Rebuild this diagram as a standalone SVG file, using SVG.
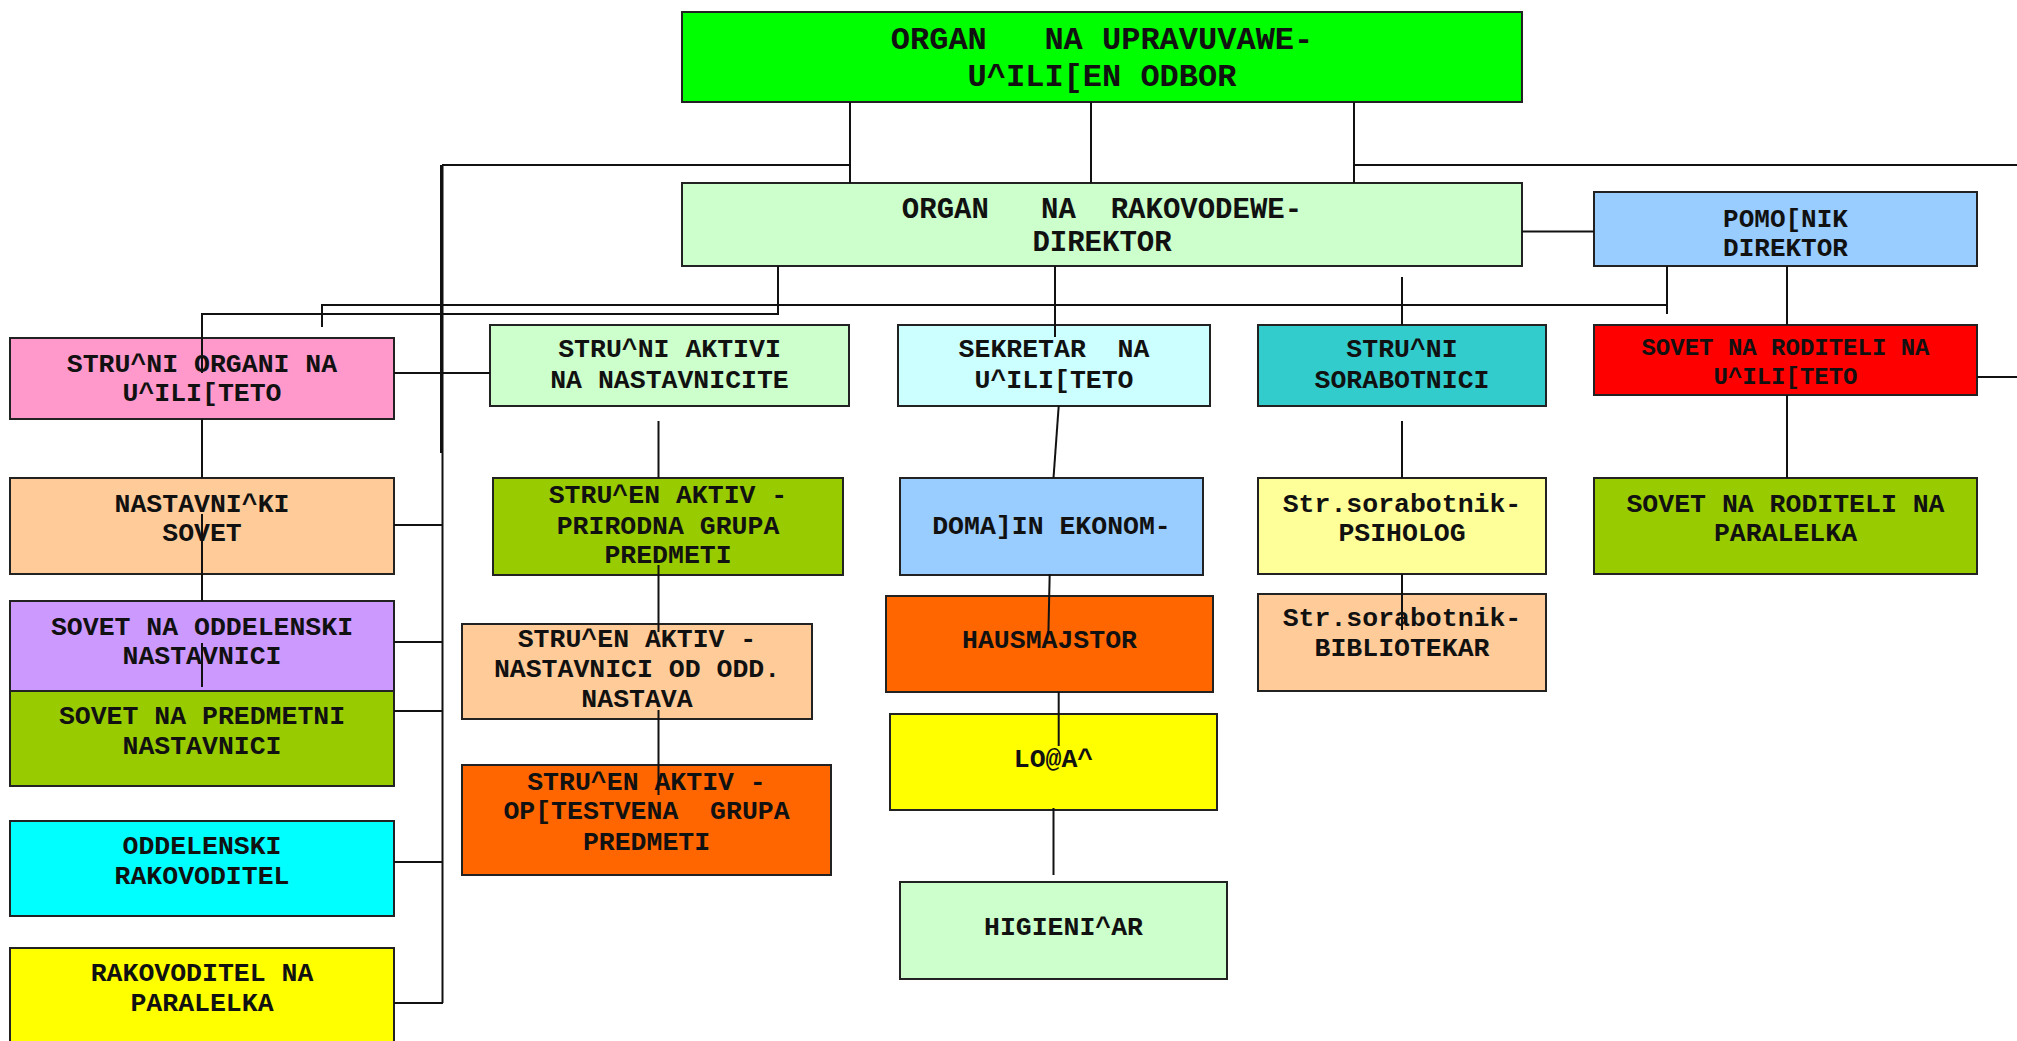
<svg xmlns="http://www.w3.org/2000/svg" width="2017" height="1041" viewBox="0 0 2017 1041" xml:space="preserve">
<style>
.b{stroke:#222;stroke-width:2}
.t{font-family:"Liberation Mono","Courier New",monospace;font-weight:bold;font-size:26.5px;fill:#111;text-anchor:middle;white-space:pre}
.c line,.c polyline{stroke:#111;stroke-width:2;fill:none}
</style>
<rect width="2017" height="1041" fill="#fff"/>
<g id="n-top"><rect class="b" x="682" y="12" width="840" height="90" fill="#00FF00"/><text class="t" style="font-size:32px" x="1102" y="49">ORGAN   NA UPRAVUVAWE-</text><text class="t" style="font-size:32px" x="1102" y="86">U^ILI[EN ODBOR</text></g>
<g id="n-dir"><rect class="b" x="682" y="183" width="840" height="83" fill="#CCFFCC"/><text class="t" style="font-size:29px" x="1102" y="218">ORGAN   NA  RAKOVODEWE-</text><text class="t" style="font-size:29px" x="1102" y="251">DIREKTOR</text></g>
<g id="n-pom"><rect class="b" x="1594" y="192" width="383" height="74" fill="#99CCFF"/><text class="t" style="font-size:26px" x="1785.5" y="227">POMO[NIK</text><text class="t" style="font-size:26px" x="1785.5" y="256">DIREKTOR</text></g>
<g id="n-sorg"><rect class="b" x="10" y="338" width="384" height="81" fill="#FF99CC"/><text class="t" x="202" y="372">STRU^NI ORGANI NA</text><text class="t" x="202" y="401">U^ILI[TETO</text></g>
<g id="n-sakt"><rect class="b" x="490" y="325" width="359" height="81" fill="#CCFFCC"/><text class="t" x="669.5" y="357">STRU^NI AKTIVI</text><text class="t" x="669.5" y="388">NA NASTAVNICITE</text></g>
<g id="n-sek"><rect class="b" x="898" y="325" width="312" height="81" fill="#CCFFFF"/><text class="t" x="1054" y="357">SEKRETAR  NA</text><text class="t" x="1054" y="388">U^ILI[TETO</text></g>
<g id="n-ssor"><rect class="b" x="1258" y="325" width="288" height="81" fill="#33CCCC"/><text class="t" x="1402" y="357">STRU^NI</text><text class="t" x="1402" y="388">SORABOTNICI</text></g>
<g id="n-srod"><rect class="b" x="1594" y="325" width="383" height="70" fill="#FF0000"/><text class="t" style="font-size:24px" x="1785.5" y="355">SOVET NA RODITELI NA</text><text class="t" style="font-size:24px" x="1785.5" y="384">U^ILI[TETO</text></g>
<g id="n-nsov"><rect class="b" x="10" y="478" width="384" height="96" fill="#FFCC99"/><text class="t" x="202" y="512">NASTAVNI^KI</text><text class="t" x="202" y="541">SOVET</text></g>
<g id="n-sodd"><rect class="b" x="10" y="601" width="384" height="90" fill="#CC99FF"/><text class="t" x="202" y="635">SOVET NA ODDELENSKI</text><text class="t" x="202" y="664">NASTAVNICI</text></g>
<g id="n-spred"><rect class="b" x="10" y="691" width="384" height="95" fill="#99CC00"/><text class="t" x="202" y="724">SOVET NA PREDMETNI</text><text class="t" x="202" y="754">NASTAVNICI</text></g>
<g id="n-orak"><rect class="b" x="10" y="821" width="384" height="95" fill="#00FFFF"/><text class="t" x="202" y="854">ODDELENSKI</text><text class="t" x="202" y="884">RAKOVODITEL</text></g>
<g id="n-rpar"><rect class="b" x="10" y="948" width="384" height="110" fill="#FFFF00"/><text class="t" x="202" y="981">RAKOVODITEL NA</text><text class="t" x="202" y="1011">PARALELKA</text></g>
<g id="n-prir"><rect class="b" x="493" y="478" width="350" height="97" fill="#99CC00"/><text class="t" x="668" y="503">STRU^EN AKTIV -</text><text class="t" x="668" y="534">PRIRODNA GRUPA</text><text class="t" x="668" y="563">PREDMETI</text></g>
<g id="n-odd"><rect class="b" x="462" y="624" width="350" height="95" fill="#FFCC99"/><text class="t" x="637" y="647">STRU^EN AKTIV -</text><text class="t" x="637" y="677">NASTAVNICI OD ODD.</text><text class="t" x="637" y="707">NASTAVA</text></g>
<g id="n-opst"><rect class="b" x="462" y="765" width="369" height="110" fill="#FF6600"/><text class="t" x="646.5" y="790">STRU^EN AKTIV -</text><text class="t" x="646.5" y="819">OP[TESTVENA  GRUPA</text><text class="t" x="646.5" y="850">PREDMETI</text></g>
<g id="n-dom"><rect class="b" x="900" y="478" width="303" height="97" fill="#99CCFF"/><text class="t" x="1051.5" y="534">DOMA]IN EKONOM-</text></g>
<g id="n-haus"><rect class="b" x="886" y="596" width="327" height="96" fill="#FF6600"/><text class="t" x="1049.5" y="648">HAUSMAJSTOR</text></g>
<g id="n-loza"><rect class="b" x="890" y="714" width="327" height="96" fill="#FFFF00"/><text class="t" x="1053.5" y="767">LO@A^</text></g>
<g id="n-hig"><rect class="b" x="900" y="882" width="327" height="97" fill="#CCFFCC"/><text class="t" x="1063.5" y="935">HIGIENI^AR</text></g>
<g id="n-psi"><rect class="b" x="1258" y="478" width="288" height="96" fill="#FFFF99"/><text class="t" x="1402" y="512">Str.sorabotnik-</text><text class="t" x="1402" y="541">PSIHOLOG</text></g>
<g id="n-bib"><rect class="b" x="1258" y="594" width="288" height="97" fill="#FFCC99"/><text class="t" x="1402" y="626">Str.sorabotnik-</text><text class="t" x="1402" y="656">BIBLIOTEKAR</text></g>
<g id="n-rpar2"><rect class="b" x="1594" y="478" width="383" height="96" fill="#99CC00"/><text class="t" x="1785.5" y="512">SOVET NA RODITELI NA</text><text class="t" x="1785.5" y="541">PARALELKA</text></g>
<g id="connectors" class="c">
<line x1="850" y1="102" x2="850" y2="183"/>
<line x1="1091" y1="102" x2="1091" y2="183"/>
<line x1="1354" y1="102" x2="1354" y2="183"/>
<line x1="442" y1="165" x2="850" y2="165"/>
<line x1="1354" y1="165" x2="2017" y2="165"/>
<line x1="442.5" y1="165" x2="442.5" y2="1003"/>
<line x1="441" y1="165" x2="441" y2="453"/>
<line x1="394" y1="373" x2="490" y2="373"/>
<line x1="394" y1="525" x2="442" y2="525"/>
<line x1="394" y1="642" x2="442" y2="642"/>
<line x1="394" y1="711" x2="442" y2="711"/>
<line x1="394" y1="862" x2="442" y2="862"/>
<line x1="394" y1="1003" x2="443" y2="1003"/>
<polyline points="778,266 778,314 202,314 202,373"/>
<polyline points="322,327 322,305 1667,305"/>
<line x1="1667" y1="266" x2="1667" y2="314"/>
<line x1="1055" y1="266" x2="1055" y2="337"/>
<line x1="1402" y1="277" x2="1402" y2="325"/>
<line x1="1522" y1="231.5" x2="1594" y2="231.5"/>
<line x1="1787" y1="266" x2="1787" y2="325"/>
<line x1="1977" y1="377" x2="2017" y2="377"/>
<line x1="1787" y1="395" x2="1787" y2="478"/>
<line x1="202" y1="419" x2="202" y2="478"/>
<line x1="202" y1="514" x2="202" y2="601"/>
<line x1="202" y1="643" x2="202" y2="687"/>
<line x1="658.5" y1="421" x2="658.5" y2="478"/>
<line x1="658.5" y1="565" x2="658.5" y2="632"/>
<line x1="658.5" y1="710" x2="658.5" y2="795"/>
<line x1="1058.7" y1="406" x2="1053.5" y2="478"/>
<line x1="1049.7" y1="574" x2="1048.4" y2="633"/>
<line x1="1058.7" y1="692" x2="1058.7" y2="746"/>
<line x1="1053.5" y1="808" x2="1053.5" y2="875"/>
<line x1="1402" y1="421" x2="1402" y2="478"/>
<line x1="1402" y1="574" x2="1402" y2="630"/>
</g>
</svg>
